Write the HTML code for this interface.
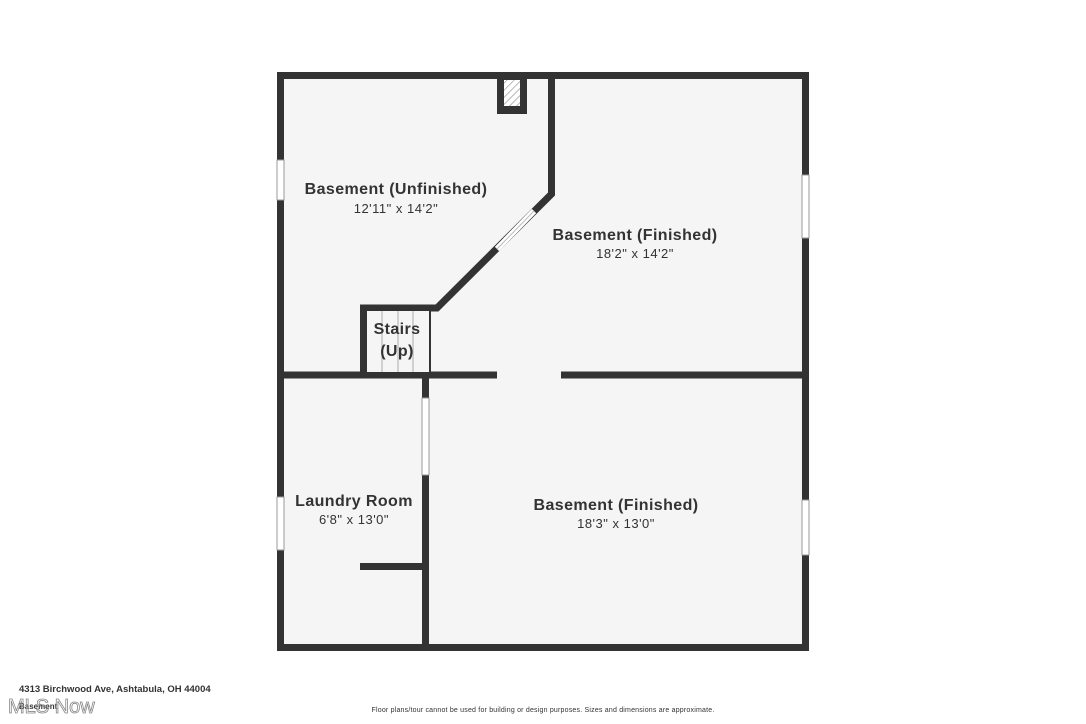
<!DOCTYPE html>
<html><head><meta charset="utf-8"><style>
html,body{margin:0;padding:0;background:#fff;width:1086px;height:724px;overflow:hidden}
svg{display:block}
text{font-family:"Liberation Sans",sans-serif;fill:#333}
</style></head><body>
<svg width="1086" height="724" viewBox="0 0 1086 724">
<defs>
<pattern id="h" width="5" height="5" patternUnits="userSpaceOnUse" patternTransform="rotate(45)">
<line x1="0" y1="0" x2="0" y2="5" stroke="#777" stroke-width="1"/>
</pattern>
</defs>
<rect x="280" y="76" width="526" height="572" fill="#f5f5f5"/>
<g stroke="#333" stroke-width="7" fill="none" stroke-linecap="square">
<rect x="280.5" y="75.5" width="525" height="572"/>
<polyline points="551.5,76 551.5,194 437,308 363.5,308 363.5,375" stroke-linecap="butt" stroke-linejoin="miter"/>
<line x1="280" y1="375" x2="497" y2="375" stroke-linecap="butt"/>
<line x1="561" y1="375" x2="806" y2="375" stroke-linecap="butt"/>
<line x1="425.5" y1="375" x2="425.5" y2="647" stroke-linecap="butt"/>
<line x1="360" y1="566.5" x2="425" y2="566.5" stroke-linecap="butt"/>
</g>
<rect x="497" y="76" width="30" height="38" fill="#333"/>
<rect x="504" y="80" width="16" height="26" fill="#fff"/>
<rect x="504" y="80" width="16" height="26" fill="url(#h)"/>
<rect x="367" y="311" width="63" height="61" fill="#f5f5f5"/>
<g stroke="#aaa" stroke-width="1">
<line x1="382" y1="311" x2="382" y2="372"/><line x1="398" y1="311" x2="398" y2="372"/><line x1="413" y1="311" x2="413" y2="372"/>
</g>
<line x1="430" y1="311" x2="430" y2="372" stroke="#333" stroke-width="2"/>
<g fill="#fff" stroke="#999" stroke-width="1">
<rect x="277" y="160" width="7" height="40"/>
<rect x="277" y="497" width="7" height="53"/>
<rect x="802" y="175" width="7" height="63"/>
<rect x="802" y="500" width="7" height="55"/>
<rect x="422" y="398" width="7" height="77"/>
</g>
<line x1="534" y1="211" x2="497" y2="249" stroke="#fff" stroke-width="6"/>
<line x1="534" y1="211" x2="497" y2="249" stroke="#bbb" stroke-width="1"/>
<g text-anchor="middle" font-weight="bold" font-size="16" letter-spacing="0.4">
<text x="396" y="194">Basement (Unfinished)</text>
<text x="635" y="240">Basement (Finished)</text>
<text x="397" y="334">Stairs</text>
<text x="397" y="356">(Up)</text>
<text x="354" y="506">Laundry Room</text>
<text x="616" y="510">Basement (Finished)</text>
</g>
<g text-anchor="middle" font-size="13" letter-spacing="0.5">
<text x="396" y="213">12'11" x 14'2"</text>
<text x="635" y="258">18'2" x 14'2"</text>
<text x="354" y="524">6'8" x 13'0"</text>
<text x="616" y="528">18'3" x 13'0"</text>
</g>
<text x="19" y="692" font-size="9.5" font-weight="bold">4313 Birchwood Ave, Ashtabula, OH 44004</text>
<text x="19" y="709" font-size="8" font-weight="bold">Basement</text>
<text x="8" y="713" font-size="20" fill="none" stroke="#888" stroke-width="0.8" style="fill:none">MLS Now</text>
<text x="543" y="712" font-size="7" text-anchor="middle" letter-spacing="0.2">Floor plans/tour cannot be used for building or design purposes. Sizes and dimensions are approximate.</text>
</svg>
</body></html>
